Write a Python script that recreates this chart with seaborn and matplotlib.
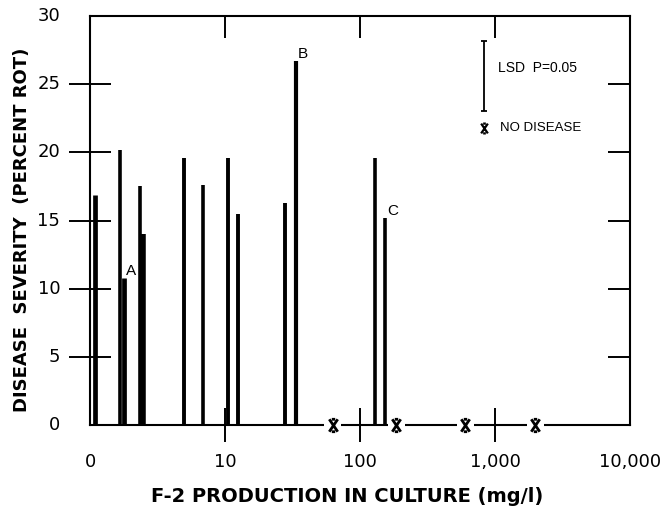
import numpy as np
import pandas as pd
import matplotlib
matplotlib.use('Agg')
import matplotlib.pyplot as plt
from matplotlib.path import Path
import seaborn as sns

# F-2 production in culture (mg/l) vs disease severity (percent rot)
conc = [1.09, 1.68, 1.79, 2.33, 2.49, 4.97, 6.87, 10.6, 12.4, 27.6, 33.6, 130, 153]
severity = [16.9, 20.2, 10.8, 17.5, 14.0, 19.6, 17.6, 19.6, 15.5, 16.3, 26.7, 19.6, 15.2]
bar_letters = ["", "", "A", "", "", "", "", "", "", "", "B", "", "C"]
no_disease_conc = [63, 186, 604, 1995]
no_disease_sev = [0, 0, 0, 0]
lsd = 5.1
xticks = [1, 10, 100, 1000, 10000]
xtick_labels = ["0", "10", "100", "1,000", "10,000"]
yticks = [0, 5, 10, 15, 20, 25, 30]

sns.set_theme(style="ticks")
plt.rcParams['font.family'] = ['DejaVu Sans']
plt.rcParams.update({"text.color": "black", "axes.labelcolor": "black",
                     "xtick.color": "black", "ytick.color": "black"})
narrow = ['Liberation Sans', 'DejaVu Sans']

df = pd.DataFrame({"conc": conc, "severity": severity, "letter": bar_letters})
bar_lw = [3.4, 2.6, 3.4, 2.6, 4.0, 2.8, 2.6, 2.8, 2.8, 2.8, 3.0, 2.6, 2.6]

fig = plt.figure(figsize=(6.64, 5.12), dpi=100)
ax = fig.add_axes([90/664, 1 - 425/512, 540/664, 409/512])

# bars drawn as thick vertical strokes
ax.vlines(df["conc"], 0, df["severity"], colors="black", linewidth=bar_lw, zorder=3)

for _, r in df[df["letter"] != ""].iterrows():
    ax.annotate(r["letter"], (r["conc"], r["severity"]), xytext=(1.5, 0),
                textcoords="offset points", ha="left", va="bottom",
                fontsize=11, family=narrow)

# "no disease" marker: an x with short caps
star = Path([(-0.75, -1.1), (0.75, 1.1), (-0.75, 1.1), (0.75, -1.1),
             (-0.3, 1.1), (0.3, 1.1), (-0.3, -1.1), (0.3, -1.1)],
            [Path.MOVETO, Path.LINETO] * 4)

sns.scatterplot(x=no_disease_conc, y=no_disease_sev, marker="s", s=150,
                color="white", edgecolor="none", ax=ax, zorder=5, clip_on=False)
sns.scatterplot(x=no_disease_conc, y=no_disease_sev, marker=star, s=80,
                color="black", edgecolor="black", linewidth=2.0, ax=ax,
                zorder=6, clip_on=False)

ax.set_xscale("log")
ax.set_xlim(1, 10000)
ax.set_ylim(0, 30)
ax.set_xticks(xticks[1:-1])
ax.set_xticks([], minor=True)
ax.set_yticks([])

# tick labels placed as text so the end values can sit at the frame corners
for xv, lab in zip(xticks, xtick_labels):
    ax.text(xv, -2.75, lab, ha="center", va="center", fontsize=13,
            transform=ax.transData, clip_on=False)
for yv in yticks:
    ax.text(-0.055, yv / 30, str(yv), ha="right", va="center", fontsize=13,
            transform=ax.transAxes, clip_on=False)
ax.set_xticklabels([])

ax.tick_params(axis="x", which="major", direction="inout", length=25, width=1.4,
               bottom=True, top=False)
for sp in ax.spines.values():
    sp.set_linewidth(1.5)
    sp.set_color("black")

# y ticks: crossing on the left frame, short inward on the right frame
ax.hlines(yticks[1:-1], -0.039, 0.039, transform=ax.get_yaxis_transform(),
          colors="black", linewidth=1.4, clip_on=False)
ax.hlines(yticks[1:-1], 0.96, 1.0, transform=ax.get_yaxis_transform(),
          colors="black", linewidth=1.4)
# short inward ticks on the top frame
ax.vlines(xticks[1:-1], 0.946, 1.0, transform=ax.get_xaxis_transform(),
          colors="black", linewidth=1.4)

# LSD bar and legend
ax.errorbar([836], [25.6], yerr=[lsd / 2], fmt="none", ecolor="black",
            elinewidth=1.3, capsize=2.5, capthick=1.3)
ax.text(0.756, 0.873, "LSD  P=0.05", transform=ax.transAxes, fontsize=10,
        ha="left", va="center", family=narrow)
ax.scatter([0.729], [0.726], marker=star, s=50, color="black", linewidth=1.6,
           transform=ax.transAxes)
ax.text(0.759, 0.726, "NO DISEASE", transform=ax.transAxes, fontsize=9.5,
        ha="left", va="center", family=narrow)

fig.text(22/664, 1 - 230/512, "DISEASE  SEVERITY  (PERCENT ROT)", rotation=90,
         ha="center", va="center", fontsize=13, fontweight="bold")
fig.text(347/664, 1 - 497/512, "F-2 PRODUCTION IN CULTURE (mg/l)",
         ha="center", va="center", fontsize=14, fontweight="bold")

fig.savefig("out.png", dpi=100, facecolor="white")
